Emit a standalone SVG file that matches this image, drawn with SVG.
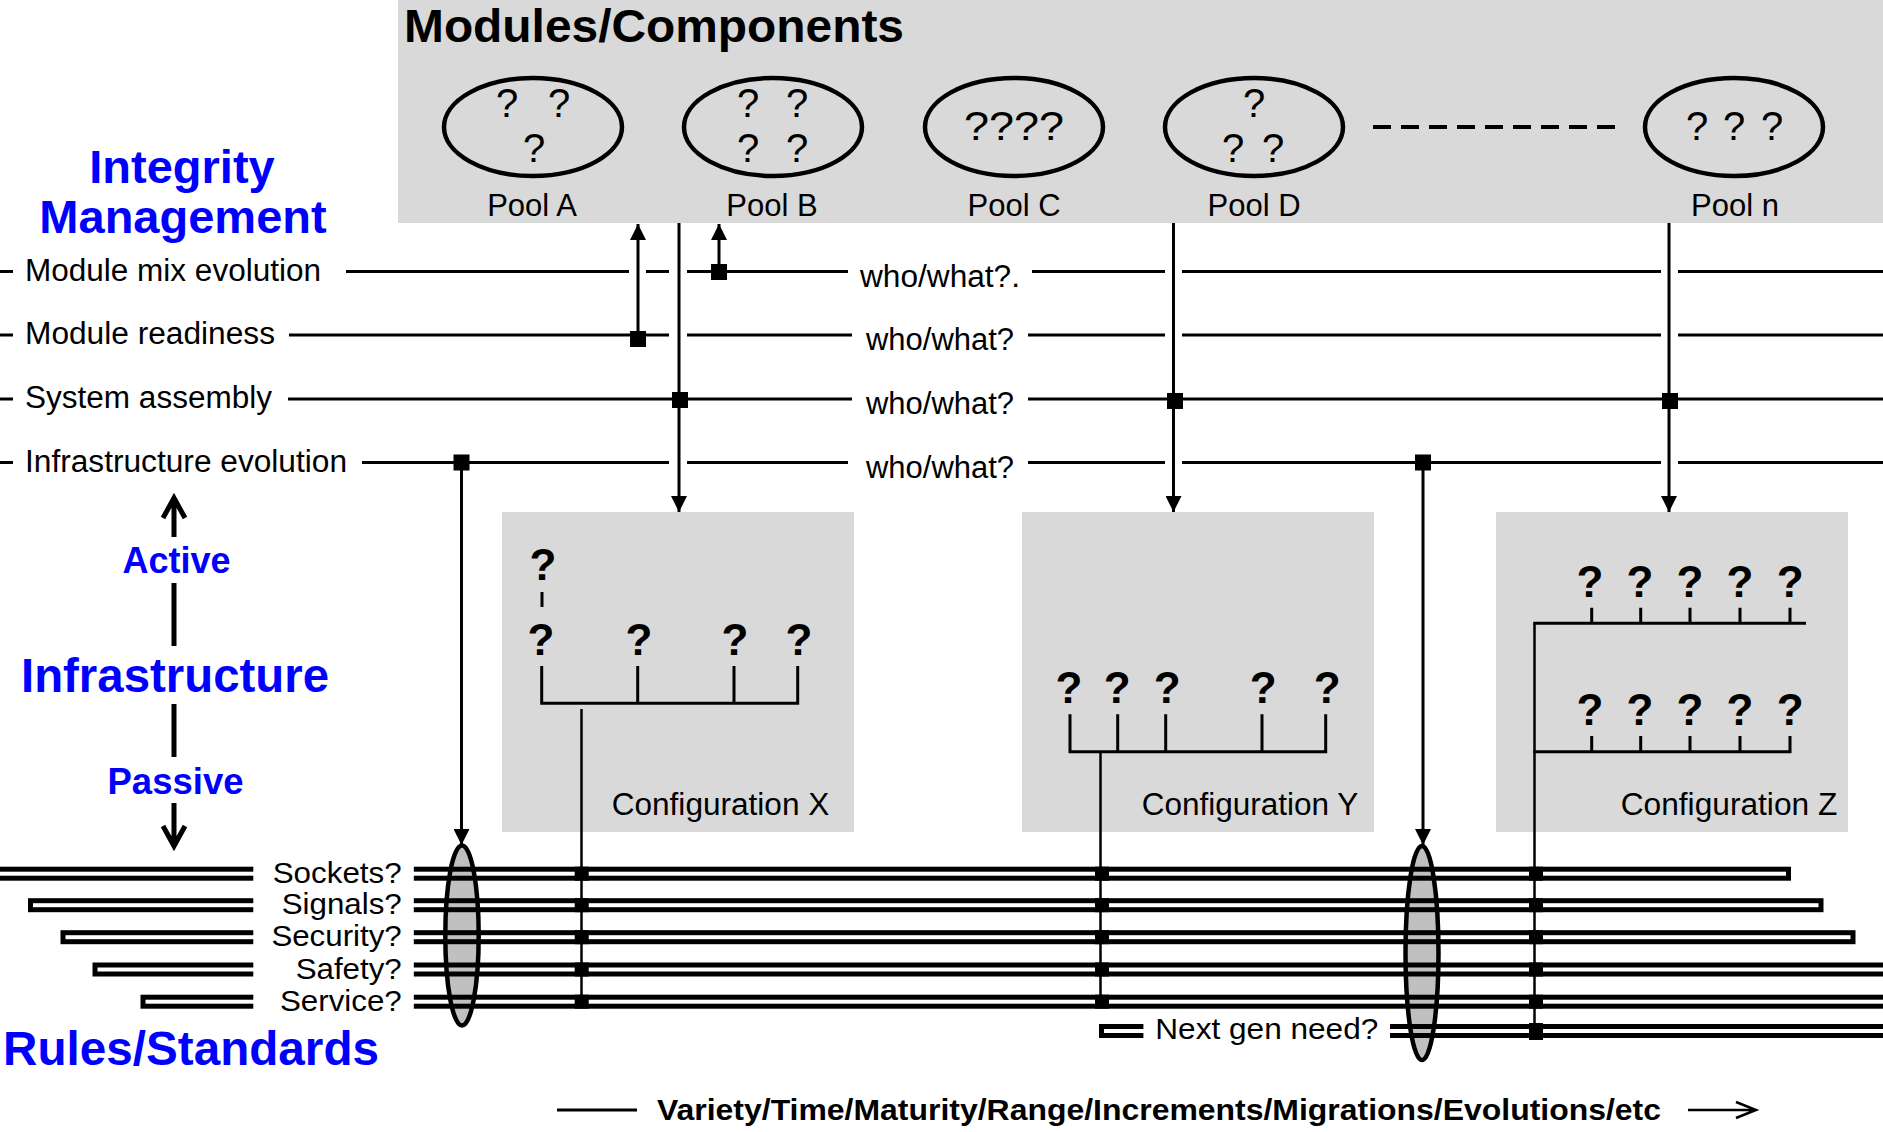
<svg xmlns="http://www.w3.org/2000/svg" width="1883" height="1132" viewBox="0 0 1883 1132">
<defs>
<style>
.t{font-family:"Liberation Sans",Arial,sans-serif;fill:#000}
.n{font-size:31px}
.b{font-weight:bold}
.blue{fill:#0000ff;font-weight:bold}
.q{font-size:40px}
.qb{font-size:44px;font-weight:bold}
.ln{stroke:#000;stroke-width:3;fill:none}
.thin{stroke:#000;stroke-width:2.5;fill:none}
.pool{fill:none;stroke:#000;stroke-width:4.5}
.box{fill:#d9d9d9}
.rule{fill:none;stroke:#000;stroke-width:5}
.sq{fill:#000}
.ell{fill:#c0c0c0;stroke:#000;stroke-width:4.5}
.bar{stroke:#000;stroke-width:5;fill:none}
</style>
<marker id="ah" markerUnits="userSpaceOnUse" markerWidth="16" markerHeight="16" refX="16" refY="8" orient="auto" viewBox="0 0 16 16"><path d="M0,0 L16,8 L0,16 z" fill="#000"/></marker>
</defs>
<rect x="0" y="0" width="1883" height="1132" fill="#fff"/>

<!-- Modules / Components -->
<g id="modules">
<rect class="box" x="398" y="0" width="1485" height="223"/>
<text class="t b" x="404" y="42" font-size="46" textLength="500" lengthAdjust="spacingAndGlyphs">Modules/Components</text>
<path d="M1373 127 H1615" stroke="#000" stroke-width="4" stroke-dasharray="18 10" fill="none"/>
</g>
<g id="pool-a">
<ellipse class="pool" cx="533" cy="127" rx="89" ry="49"/>
<text class="t q" x="507" y="117" text-anchor="middle">?</text>
<text class="t q" x="559" y="117" text-anchor="middle">?</text>
<text class="t q" x="534" y="162" text-anchor="middle">?</text>
<text class="t n" x="532" y="216" text-anchor="middle">Pool A</text>
</g>
<g id="pool-b">
<ellipse class="pool" cx="773" cy="127" rx="89" ry="49"/>
<text class="t q" x="748" y="117" text-anchor="middle">?</text>
<text class="t q" x="797" y="117" text-anchor="middle">?</text>
<text class="t q" x="748" y="162" text-anchor="middle">?</text>
<text class="t q" x="797" y="162" text-anchor="middle">?</text>
<text class="t n" x="772" y="216" text-anchor="middle">Pool B</text>
</g>
<g id="pool-c">
<ellipse class="pool" cx="1014" cy="127" rx="89" ry="49"/>
<text class="t q" x="964" y="140" textLength="100" lengthAdjust="spacingAndGlyphs">????</text>
<text class="t n" x="1014" y="216" text-anchor="middle">Pool C</text>
</g>
<g id="pool-d">
<ellipse class="pool" cx="1254" cy="127" rx="89" ry="49"/>
<text class="t q" x="1254" y="117" text-anchor="middle">?</text>
<text class="t q" x="1233" y="162" text-anchor="middle">?</text>
<text class="t q" x="1273" y="162" text-anchor="middle">?</text>
<text class="t n" x="1254" y="216" text-anchor="middle">Pool D</text>
</g>
<g id="pool-n">
<ellipse class="pool" cx="1734" cy="127" rx="89" ry="49"/>
<text class="t q" x="1697" y="140" text-anchor="middle">?</text>
<text class="t q" x="1734" y="140" text-anchor="middle">?</text>
<text class="t q" x="1772" y="140" text-anchor="middle">?</text>
<text class="t n" x="1735" y="216" text-anchor="middle">Pool n</text>
</g>

<!-- Left headings -->
<g id="integrity-management">
<text class="t blue" x="182" y="183" font-size="47" text-anchor="middle">Integrity</text>
<text class="t blue" x="183" y="233" font-size="47" text-anchor="middle">Management</text>
</g>
<g id="infrastructure">
<path class="bar" d="M174 537 V499 M163 518 L174 498 L185 518"/>
<text class="t blue" x="176.5" y="572.7" font-size="36" text-anchor="middle">Active</text>
<path class="bar" d="M174 583 V646"/>
<text class="t blue" x="175" y="691.7" font-size="47.5" text-anchor="middle" textLength="308" lengthAdjust="spacingAndGlyphs">Infrastructure</text>
<path class="bar" d="M174 704 V757"/>
<text class="t blue" x="175.5" y="794" font-size="36.5" text-anchor="middle">Passive</text>
<path class="bar" d="M174 803 V845 M163 826 L174 846 L185 826"/>
</g>
<g id="rules-standards-title">
<text class="t blue" x="3" y="1065" font-size="47.5" textLength="376" lengthAdjust="spacingAndGlyphs">Rules/Standards</text>
</g>

<!-- Configurations -->
<g id="config-x">
<rect class="box" x="502" y="512" width="352" height="320"/>
<text class="t qb" x="543" y="580" text-anchor="middle">?</text>
<path class="ln" d="M542 592 V607"/>
<text class="t qb" x="541" y="655" text-anchor="middle">?</text>
<text class="t qb" x="639" y="655" text-anchor="middle">?</text>
<text class="t qb" x="735" y="655" text-anchor="middle">?</text>
<text class="t qb" x="799" y="655" text-anchor="middle">?</text>
<path class="ln" d="M541.7 666 V703.3 H797.7 V666 M637.7 666 V703.3 M734 666 V703.3"/>
<text class="t n" x="611.7" y="815" textLength="217.6" lengthAdjust="spacingAndGlyphs">Configuration X</text>
</g>
<g id="config-y">
<rect class="box" x="1022" y="512" width="352" height="320"/>
<text class="t qb" x="1069" y="702.7" text-anchor="middle">?</text>
<text class="t qb" x="1117.3" y="702.7" text-anchor="middle">?</text>
<text class="t qb" x="1167.3" y="702.7" text-anchor="middle">?</text>
<text class="t qb" x="1263.3" y="702.7" text-anchor="middle">?</text>
<text class="t qb" x="1327.3" y="702.7" text-anchor="middle">?</text>
<path class="ln" d="M1070 714.3 V751.7 H1325.7 V714.3 M1117.7 714.3 V751.7 M1165.7 714.3 V751.7 M1262 714.3 V751.7"/>
<text class="t n" x="1141.7" y="815" textLength="216.6" lengthAdjust="spacingAndGlyphs">Configuration Y</text>
</g>
<g id="config-z">
<rect class="box" x="1496" y="512" width="352" height="320"/>
<text class="t qb" x="1590" y="596.7" text-anchor="middle">?</text>
<text class="t qb" x="1640" y="596.7" text-anchor="middle">?</text>
<text class="t qb" x="1690" y="596.7" text-anchor="middle">?</text>
<text class="t qb" x="1740" y="596.7" text-anchor="middle">?</text>
<text class="t qb" x="1790.3" y="596.7" text-anchor="middle">?</text>
<path class="ln" d="M1533.3 623.3 H1806 M1591.7 607.7 V623.3 M1640.7 607.7 V623.3 M1690 607.7 V623.3 M1740 607.7 V623.3 M1790 607.7 V623.3"/>
<text class="t qb" x="1590" y="725" text-anchor="middle">?</text>
<text class="t qb" x="1640" y="725" text-anchor="middle">?</text>
<text class="t qb" x="1690" y="725" text-anchor="middle">?</text>
<text class="t qb" x="1740" y="725" text-anchor="middle">?</text>
<text class="t qb" x="1790.3" y="725" text-anchor="middle">?</text>
<path class="ln" d="M1533.3 751.7 H1790 V736 M1591.7 736 V751.7 M1640.7 736 V751.7 M1690 736 V751.7 M1740 736 V751.7"/>
<text class="t n" x="1620.7" y="815" textLength="216.6" lengthAdjust="spacingAndGlyphs">Configuration Z</text>
</g>

<!-- Rules / Standards -->
<g id="rules">
<ellipse class="ell" cx="462" cy="935.5" rx="16.7" ry="90"/>
<ellipse class="ell" cx="1422" cy="953" rx="16.5" ry="107"/>
<rect class="rule" x="-17.5" y="869.2" width="1806" height="9"/>
<rect class="rule" x="30.5" y="900.7" width="1790.5" height="9"/>
<rect class="rule" x="63" y="932.7" width="1790" height="9"/>
<rect class="rule" x="95" y="965" width="1810" height="9"/>
<rect class="rule" x="143" y="997.2" width="1770" height="9"/>
<rect class="rule" x="1101.5" y="1026.5" width="810" height="9"/>
<rect x="253.3" y="860" width="160.5" height="152" fill="#fff"/>
<rect x="1143.4" y="1012" width="246.6" height="33" fill="#fff"/>
<text class="t" font-size="30" x="401.7" y="882.7" text-anchor="end" textLength="129" lengthAdjust="spacingAndGlyphs">Sockets?</text>
<text class="t" font-size="30" x="401.7" y="914.2" text-anchor="end" textLength="120" lengthAdjust="spacingAndGlyphs">Signals?</text>
<text class="t" font-size="30" x="401.7" y="946.2" text-anchor="end" textLength="130.3" lengthAdjust="spacingAndGlyphs">Security?</text>
<text class="t" font-size="30" x="401.7" y="978.5" text-anchor="end" textLength="106" lengthAdjust="spacingAndGlyphs">Safety?</text>
<text class="t" font-size="30" x="401.7" y="1010.7" text-anchor="end" textLength="121.7" lengthAdjust="spacingAndGlyphs">Service?</text>
<text class="t" font-size="30" x="1155.3" y="1038.5" textLength="223" lengthAdjust="spacingAndGlyphs">Next gen need?</text>
</g>

<!-- Integrity management rows -->
<g id="rows">
<path class="ln" d="M0 271.5 H13 M346 271.5 H629 M646 271.5 H669 M687 271.5 H848 M1032 271.5 H1165 M1182 271.5 H1661 M1678 271.5 H1883"/>
<path class="ln" d="M0 335 H13 M289 335 H669 M687 335 H852 M1028 335 H1165 M1182 335 H1661 M1678 335 H1883"/>
<path class="ln" d="M0 399 H13 M288 399 H852 M1028 399 H1883"/>
<path class="ln" d="M0 462.5 H13 M362 462.5 H669 M687 462.5 H848 M1028 462.5 H1165 M1182 462.5 H1661 M1678 462.5 H1883"/>
<text class="t n" x="25" y="280.5" textLength="296" lengthAdjust="spacingAndGlyphs">Module mix evolution</text>
<text class="t n" x="25" y="344" textLength="250" lengthAdjust="spacingAndGlyphs">Module readiness</text>
<text class="t n" x="25" y="408" textLength="247" lengthAdjust="spacingAndGlyphs">System assembly</text>
<text class="t n" x="25" y="471.5" textLength="322" lengthAdjust="spacingAndGlyphs">Infrastructure evolution</text>
<text class="t n" x="940" y="286.5" text-anchor="middle" textLength="160" lengthAdjust="spacingAndGlyphs">who/what?.</text>
<text class="t n" x="940" y="350" text-anchor="middle" textLength="148" lengthAdjust="spacingAndGlyphs">who/what?</text>
<text class="t n" x="940" y="414" text-anchor="middle" textLength="148" lengthAdjust="spacingAndGlyphs">who/what?</text>
<text class="t n" x="940" y="477.5" text-anchor="middle" textLength="148" lengthAdjust="spacingAndGlyphs">who/what?</text>
</g>

<!-- Connectors -->
<g id="connectors">
<path class="ln" d="M638 339 V224" marker-end="url(#ah)"/>
<path class="ln" d="M719 272 V224" marker-end="url(#ah)"/>
<path class="ln" d="M679 223 V512" marker-end="url(#ah)"/>
<path class="ln" d="M1173.5 223 V512" marker-end="url(#ah)"/>
<path class="ln" d="M1669 223 V512" marker-end="url(#ah)"/>
<path class="ln" d="M461.5 462.5 V845" marker-end="url(#ah)"/>
<path class="ln" d="M1423 462.5 V845" marker-end="url(#ah)"/>
<rect class="sq" x="630" y="331" width="16" height="16"/>
<rect class="sq" x="711" y="264" width="16" height="16"/>
<rect class="sq" x="672" y="392" width="16" height="16"/>
<rect class="sq" x="1167" y="393" width="16" height="16"/>
<rect class="sq" x="1662" y="393" width="16" height="16"/>
<rect class="sq" x="453.5" y="454.5" width="16" height="16"/>
<rect class="sq" x="1415" y="454.5" width="16" height="16"/>
<path class="thin" d="M581.5 709 V1001"/>
<path class="thin" d="M1100.5 751.7 V1001"/>
<path class="thin" d="M1534.5 623.3 V1031"/>
<rect class="sq" x="574.7" y="866.7" width="14" height="14"/>
<rect class="sq" x="574.7" y="898.2" width="14" height="14"/>
<rect class="sq" x="574.7" y="930.2" width="14" height="14"/>
<rect class="sq" x="574.7" y="962.5" width="14" height="14"/>
<rect class="sq" x="574.7" y="994.7" width="14" height="14"/>
<rect class="sq" x="1095" y="866.7" width="14" height="14"/>
<rect class="sq" x="1095" y="898.2" width="14" height="14"/>
<rect class="sq" x="1095" y="930.2" width="14" height="14"/>
<rect class="sq" x="1095" y="962.5" width="14" height="14"/>
<rect class="sq" x="1095" y="994.7" width="14" height="14"/>
<rect class="sq" x="1529" y="866.7" width="14" height="14"/>
<rect class="sq" x="1529" y="898.2" width="14" height="14"/>
<rect class="sq" x="1529" y="930.2" width="14" height="14"/>
<rect class="sq" x="1529" y="962.5" width="14" height="14"/>
<rect class="sq" x="1529" y="994.7" width="14" height="14"/>
<rect class="sq" x="1529" y="1023" width="14" height="17"/>
</g>

<!-- Axis -->
<g id="axis">
<path class="ln" d="M557 1110 H637"/>
<text class="t b" font-size="30" x="657" y="1120" textLength="1004" lengthAdjust="spacingAndGlyphs">Variety/Time/Maturity/Range/Increments/Migrations/Evolutions/etc</text>
<path class="thin" d="M1688 1110 H1755 M1736 1102 L1756 1110 L1736 1118"/>
</g>
</svg>
